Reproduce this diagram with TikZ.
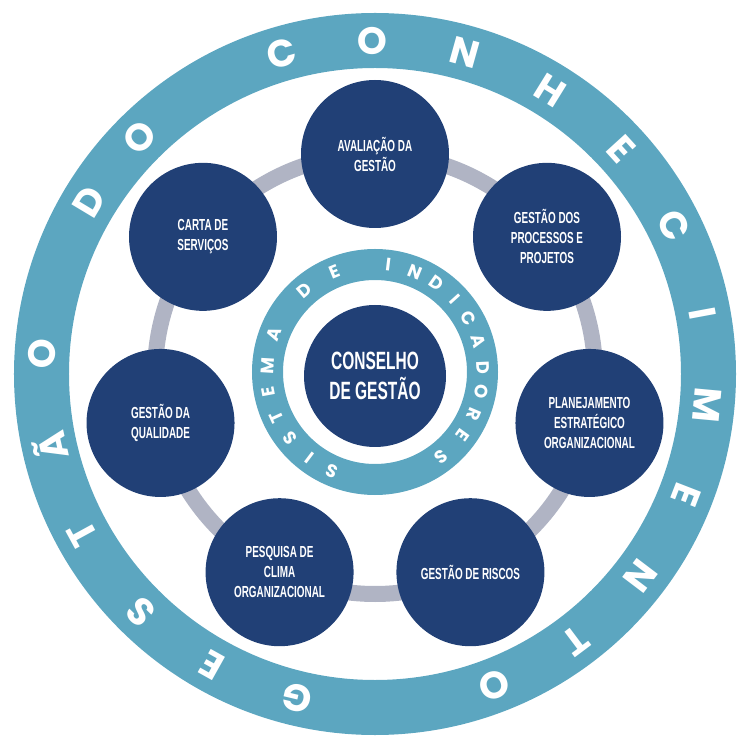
\documentclass[tikz,border=0pt]{standalone}
\usepackage{fontspec}
\setmainfont{Liberation Sans}
\newfontfamily\narrowfont[FakeStretch=0.62]{Liberation Sans}
\newfontfamily\ringfont{Poppins}
\definecolor{navy}{RGB}{33,64,118}
\definecolor{ringteal}{RGB}{92,166,192}
\definecolor{linkgray}{RGB}{176,180,196}
\begin{document}
\begin{tikzpicture}
  [x=1pt,y=1pt
  ,sat/.style={circle,fill=navy,minimum size=148pt,inner sep=0pt,align=center,text=white,
    font=\narrowfont\bfseries\fontsize{16}{20}\selectfont}
  ,big/.style={sat,minimum size=142pt,font=\narrowfont\bfseries\fontsize{25}{30}\selectfont}
  ,outerlbl/.style={text=white,inner sep=0pt,font=\ringfont\bfseries\fontsize{38}{38}\selectfont}
  ,innerlbl/.style={text=white,inner sep=0pt,yshift=2pt,font=\ringfont\bfseries\fontsize{18}{18}\selectfont}
  ]
    \useasboundingbox (-375,-364) rectangle (361,374);
    \draw[ringteal,line width=55pt] (0,0) circle (333.5);
    \draw[ringteal,line width=31pt] (0,2) circle (107.5);
    \draw[linkgray,line width=16pt] (0,0) circle (220);
    % seven topics round the council
    \node[sat] (aval)  at (90:220)      {AVALIAÇÃO DA\\GESTÃO};
    \node[sat] (proc)  at (38.57:220)   {GESTÃO DOS\\PROCESSOS E\\PROJETOS};
    \node[sat] (plan)  at (-12.86:220)  {PLANEJAMENTO\\ESTRATÉGICO\\ORGANIZACIONAL};
    \node[sat] (risc)  at (-64.29:220)  {GESTÃO DE RISCOS};
    \node[sat] (pesq)  at (-115.71:220) {PESQUISA DE\\CLIMA\\ORGANIZACIONAL};
    \node[sat] (qual)  at (-167.14:220) {GESTÃO DA\\QUALIDADE};
    \node[sat] (carta) at (141.43:220)  {CARTA DE\\SERVIÇOS};
    \node[big] (cons)  at (0,-2)        {CONSELHO\\DE GESTÃO};
    % letters on the rings
    \foreach \a/\l in {256.6/G,240.8/E,225.5/S,208.6/T,192.6/Ã,176.6/O,149/D,134.9/O,
                       106.3/C,90.4/O,74.4/N,58.3/H,42.3/E,26.4/C,10.5/I,-5.3/M,
                       -21.2/E,-37.2/N,-53.1/T,-69/O}{
      \node[outerlbl,rotate=\a-90] at (\a:333.5) {\l};
    }
    \foreach \a/\l in {246.6/S,232.9/I,217.9/S,204.7/T,190.5/E,176.5/M,159.5/A,
                       130.6/D,112.2/E,83/I,68/N,55/D,42/I,30/C,16.5/A,2.5/D,
                       -10.5/O,-23/R,-36/E,-52/S}{
      \node[innerlbl,rotate=\a-90] at (\a:108) {\l};
    }
\end{tikzpicture}
\end{document}
